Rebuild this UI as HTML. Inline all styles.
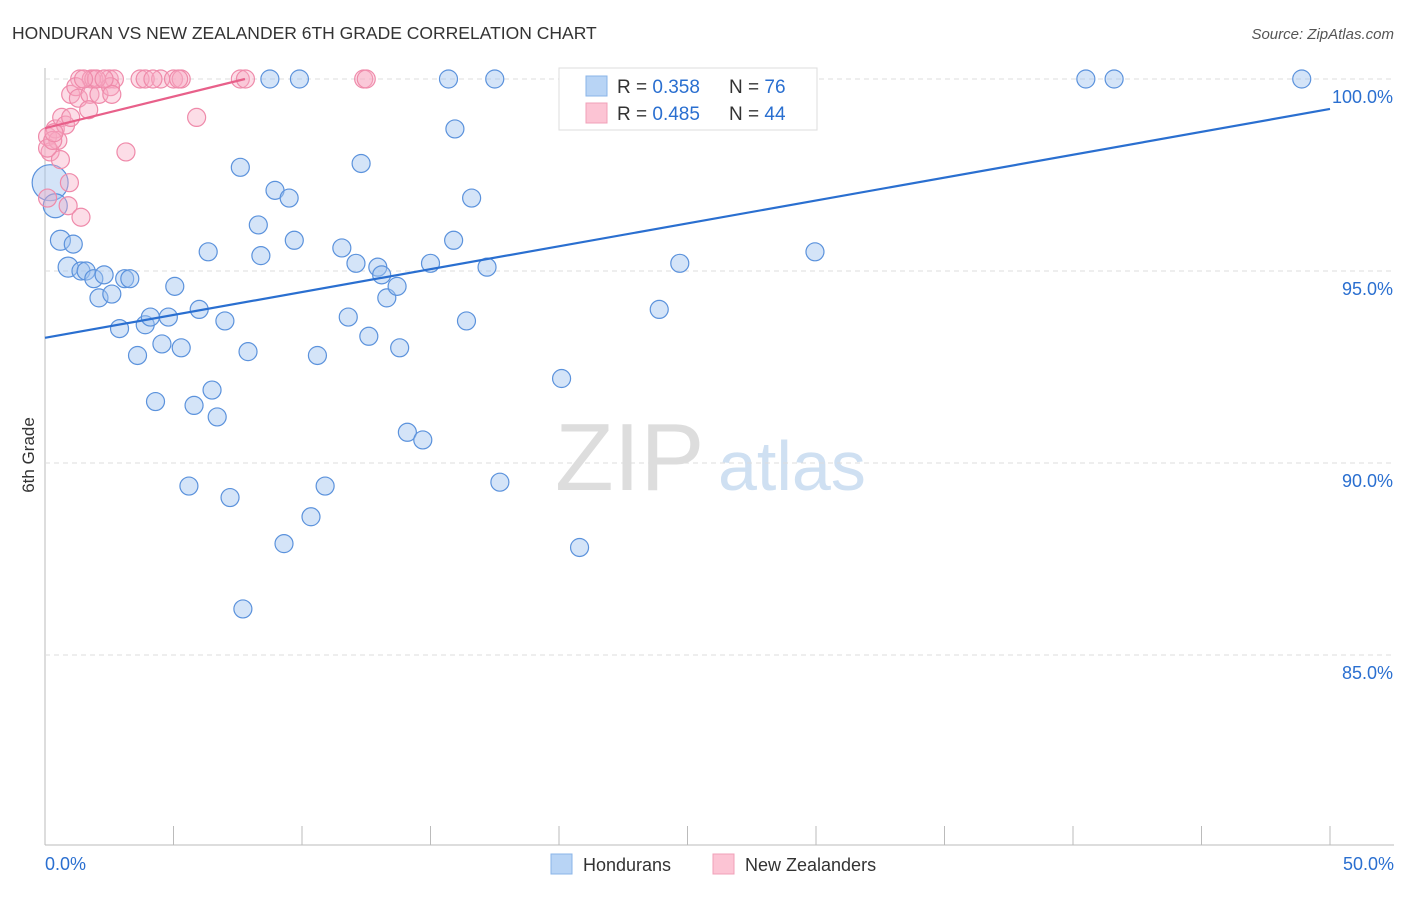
<!DOCTYPE html>
<html><head><meta charset="utf-8"><style>
body{margin:0;background:#fff;font-family:"Liberation Sans",sans-serif;}
svg text{font-family:"Liberation Sans",sans-serif;}
</style></head><body>
<svg id="chart" width="1406" height="892">
<text x="12" y="39" font-size="17.5" fill="#333">HONDURAN VS NEW ZEALANDER 6TH GRADE CORRELATION CHART</text>
<text x="1394" y="39" font-size="15" fill="#555" text-anchor="end" font-style="italic">Source: ZipAtlas.com</text>
<text x="555" y="490" font-size="96" fill="#ddd" font-family="Liberation Serif">ZIP</text>
<text x="718" y="490" font-size="70" fill="#cfe0f2">atlas</text>
<text transform="translate(34,455) rotate(-90)" font-size="17" fill="#333" text-anchor="middle">6th Grade</text>
<g id="grid"></g><g id="pts"></g><g id="lines"></g>
<g>
<rect x="559" y="68" width="258" height="62" fill="#fff" stroke="#ddd"/>
<rect x="586" y="76" width="21" height="20" fill="#b8d4f5" stroke="#8ab4e8"/>
<rect x="586" y="103" width="21" height="20" fill="#fcc4d4" stroke="#f0a0b8"/>
<text x="617" y="93" font-size="19" fill="#333">R = <tspan fill="#2a6fd0">0.358</tspan><tspan x="729">N = </tspan><tspan fill="#2a6fd0">76</tspan></text>
<text x="617" y="120" font-size="19" fill="#333">R = <tspan fill="#2a6fd0">0.485</tspan><tspan x="729">N = </tspan><tspan fill="#2a6fd0">44</tspan></text>
</g>
<g>
<rect x="551" y="854" width="21" height="20" fill="#b8d4f5" stroke="#8ab4e8"/>
<text x="583" y="871" font-size="18" fill="#333">Hondurans</text>
<rect x="713" y="854" width="21" height="20" fill="#fcc4d4" stroke="#f0a0b8"/>
<text x="745" y="871" font-size="18" fill="#333">New Zealanders</text>
</g>
</svg>
<script>
const blueX=[0.2,0.4,0.6,1.1,0.9,1.4,1.6,1.9,2.3,2.1,2.6,3.1,3.3,2.9,3.6,3.9,4.1,4.8,4.55,5.05,5.3,4.3,5.8,6.0,6.35,6.5,6.7,7.0,7.9,7.6,8.3,8.4,8.95,9.5,9.7,10.6,11.55,11.8,12.1,12.3,12.95,13.1,13.3,12.6,13.7,13.8,14.1,14.7,15.0,15.95,15.9,16.4,16.6,17.2,17.7,20.1,20.8,23.9,24.7,29.96,5.6,7.2,9.3,10.35,10.9,7.7,8.75,9.9,15.7,17.5,40.5,41.6,48.9,24.7,28.2];
const blueY=[97.3,96.7,95.8,95.7,95.1,95.0,95.0,94.8,94.9,94.3,94.4,94.8,94.8,93.5,92.8,93.6,93.8,93.8,93.1,94.6,93.0,91.6,91.5,94.0,95.5,91.9,91.2,93.7,92.9,97.7,96.2,95.4,97.1,96.9,95.8,92.8,95.6,93.8,95.2,97.8,95.1,94.9,94.3,93.3,94.6,93.0,90.8,90.6,95.2,98.7,95.8,93.7,96.9,95.1,89.5,92.2,87.8,94.0,95.2,95.5,89.4,89.1,87.9,88.6,89.4,86.2,100,100,100,100,100,100,100,100,100];
const blueR=[18,12,10,9,10,9,9,9,9,9,9,9,9,9,9,9,9,9,9,9,9,9,9,9,9,9,9,9,9,9,9,9,9,9,9,9,9,9,9,9,9,9,9,9,9,9,9,9,9,9,9,9,9,9,9,9,9,9,9,9,9,9,9,9,9,9,9,9,9,9,9,9,9,9,9];
const pinkX=[1.35,1.8,1.9,2.5,2.7,3.7,3.9,4.5,5.0,5.3,7.6,7.8,12.4,12.5,0.1,0.2,0.4,0.5,0.65,0.8,1.0,1.2,1.3,1.75,2.1,2.55,2.6,1.7,3.15,5.9,0.95,0.9,1.4,0.6,0.1,0.1,0.3,1.0,2.0,2.3,1.5,4.2,5.2,0.35];
const pinkY=[100,100,100,100,100,100,100,100,100,100,100,100,100,100,98.5,98.1,98.7,98.4,99.0,98.8,99.6,99.8,99.5,99.6,99.6,99.8,99.6,99.2,98.1,99.0,97.3,96.7,96.4,97.9,96.9,98.2,98.4,99.0,100,100,100,100,100,98.6];
const blueTrend=[93.26,99.22];
const pinkTrendX=[0,7.78];
const pinkTrend=[98.72,100];
const xTicks=[0,5,10,15,20,25,30,35,40,45,50];
const yTicks=[85,90,95,100];
const yTickLabels=["85.0%","90.0%","95.0%","100.0%"];
const xs=v=>45+v*25.7, ys=v=>79+(100-v)*38.4;
const NS="http://www.w3.org/2000/svg";
function mk(t,a,p){const e=document.createElementNS(NS,t);for(const k in a)e.setAttribute(k,a[k]);p.appendChild(e);return e;}
const grid=document.getElementById('grid');
const ax=mk('line',{x1:45,y1:68,x2:45,y2:845,stroke:'#bbb'},grid);


const bx=mk('line',{x1:45,y1:845,x2:1394,y2:845,stroke:'#bbb'},grid);


yTicks.forEach((v,i)=>{
 const g=mk('line',{x1:45,y1:ys(v),x2:1394,y2:ys(v),stroke:'#ddd','stroke-dasharray':'5,4'},grid);
 
 
 const t=mk('text',{x:1393,y:ys(v)+24,'font-size':18,fill:'#2a6fd0','text-anchor':'end'},grid);t.textContent=yTickLabels[i];
 
 
});
xTicks.forEach(v=>{
 const l=mk('line',{x1:xs(v),y1:826,x2:xs(v),y2:845,stroke:'#bbb'},grid);
 
 
});
const t0=mk('text',{x:45,y:870,'font-size':18,fill:'#2a6fd0'},grid);t0.textContent='0.0%';


const t1=mk('text',{x:1394,y:870,'font-size':18,fill:'#2a6fd0','text-anchor':'end'},grid);t1.textContent='50.0%';


const pts=document.getElementById('pts');
blueX.forEach((x,i)=>{
 const c=mk('circle',{cx:xs(x),cy:ys(blueY[i]),r:blueR[i],fill:'rgba(160,196,240,0.45)',stroke:'#5b92dc','stroke-width':1.2},pts);
 
 
});
pinkX.forEach((x,i)=>{
 const c=mk('circle',{cx:xs(x),cy:ys(pinkY[i]),r:9,fill:'rgba(248,170,195,0.4)',stroke:'#ef8aaa','stroke-width':1.2},pts);
 
 
});
const lines=document.getElementById('lines');
const bl=mk('line',{x1:xs(0),y1:ys(blueTrend[0]),x2:xs(50),y2:ys(blueTrend[1]),stroke:'#2a6fd0','stroke-width':2.2},lines);


const pl=mk('line',{x1:xs(pinkTrendX[0]),y1:ys(pinkTrend[0]),x2:xs(pinkTrendX[1]),y2:ys(pinkTrend[1]),stroke:'#e8608a','stroke-width':2.2},lines);


</script>
</body></html>
